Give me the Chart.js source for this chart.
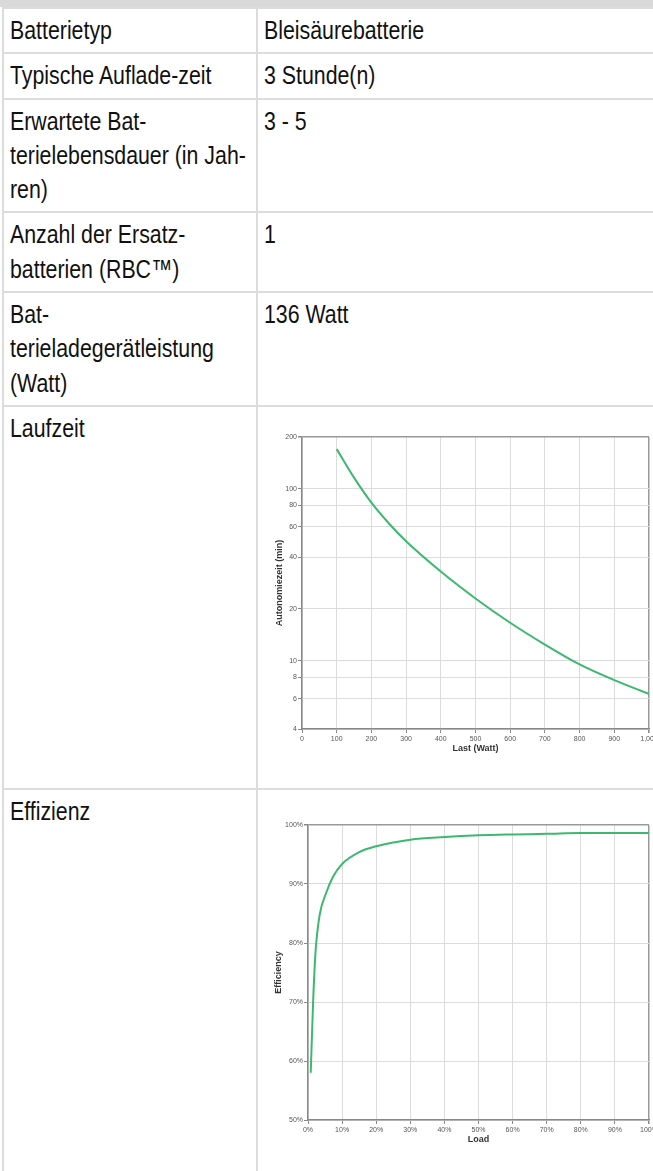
<!DOCTYPE html>
<html>
<head>
<meta charset="utf-8">
<script src="https://cdn.jsdelivr.net/npm/chart.js@4"></script>
<style>
    html, body { margin: 0; padding: 0; overflow: hidden; background: #fff; }
    .band { height: 7px; background: #d9d9d9; }
    table {
        border-collapse: collapse;
        table-layout: fixed;
        width: 720px;
        margin-left: 2px;
        font-family: 'Liberation Sans', Arial, sans-serif;
        font-size: 26px;
        line-height: 34.3px;
        color: #111;
    }
    td {
        border: 2px solid #dcdcdc;
        padding: 4px 6px 5px 6px;
        vertical-align: top;
        white-space: nowrap;
    }
    td.k { width: 240px; }
    /* narrow face is not installed, so squeeze the regular one */
    .n { display: inline-block; transform: scaleX(0.82); transform-origin: 0 0; }
    .cell { position: relative; height: 372px; }
    .cell.last { height: 420px; }
    .chart { position: absolute; left: -2px; width: 400px; }
</style>
</head>
<body>
<div class="band"></div>
<table>
    <tr><td class="k"><span class="n">Batterietyp</span></td><td><span class="n">Bleisäurebatterie</span></td></tr>
    <tr><td class="k"><span class="n">Typische Auflade-zeit</span></td><td><span class="n">3 Stunde(n)</span></td></tr>
    <tr><td class="k"><span class="n">Erwartete Bat-<br>terielebensdauer (in Jah-<br>ren)</span></td><td><span class="n">3 - 5</span></td></tr>
    <tr><td class="k"><span class="n">Anzahl der Ersatz-<br>batterien (RBC™)</span></td><td><span class="n">1</span></td></tr>
    <tr><td class="k"><span class="n">Bat-<br>terieladegerätleistung<br>(Watt)</span></td><td><span class="n">136 Watt</span></td></tr>
    <tr><td class="k"><span class="n">Laufzeit</span></td><td><div class="cell"><div class="chart" style="top:15px;height:335px;"><canvas id="runtimeChart"></canvas></div></div></td></tr>
    <tr><td class="k"><span class="n">Effizienz</span></td><td><div class="cell last"><div class="chart" style="top:12px;height:350px;"><canvas id="effChart"></canvas></div></div></td></tr>
</table>

<script>
// Laufzeit: load in watts vs. runtime in minutes
const loadWatts = [100, 150, 200, 250, 300, 400, 500, 600, 700, 800, 900, 1000];
const runtimeMin = [170, 116, 83, 63, 49.5, 33, 23, 16.6, 12.4, 9.5, 7.7, 6.4];
const runtimeTicks = [4, 6, 8, 10, 20, 40, 60, 80, 100, 200];

// Effizienz: load in percent vs. efficiency in percent
const loadPct = [0.8, 1.5, 2.2, 3.4, 5.4, 7.3, 10, 15, 20, 30, 40, 50, 60, 70, 80, 90, 100];
const effPct = [58, 70, 78.4, 84.7, 88.6, 91.2, 93.4, 95.4, 96.4, 97.5, 97.95, 98.25, 98.4, 98.5, 98.65, 98.65, 98.65];

const green = '#3cb870';
const tickFont = { family: 'Liberation Sans', size: 7 };
const titleFont = { family: 'Liberation Sans', size: 9, weight: 'bold' };

function gridColor(max) {
    return ctx => (ctx.tick && ctx.tick.value === max ? '#999' : '#dcdcdc');
}
function gridWidth(max) {
    return ctx => (ctx.tick && ctx.tick.value === max ? 1.5 : 1);
}

Chart.defaults.animation = false;

new Chart(document.getElementById('runtimeChart'), {
    type: 'line',
    data: {
        datasets: [{
            data: loadWatts.map((w, i) => ({ x: w, y: runtimeMin[i] })),
            borderColor: green,
            borderWidth: 2,
            pointRadius: 0,
            cubicInterpolationMode: 'monotone'
        }]
    },
    options: {
        responsive: true,
        maintainAspectRatio: false,
        layout: { padding: { top: 11, right: 13, bottom: 0, left: 0 } },
        plugins: { legend: { display: false }, tooltip: { enabled: false } },
        scales: {
            x: {
                type: 'linear',
                min: 0,
                max: 1000,
                afterFit: s => { s.height = 32; },
                ticks: {
                    stepSize: 100,
                    autoSkip: false,
                    maxRotation: 0,
                    padding: 2,
                    font: tickFont,
                    color: '#555',
                    callback: v => v.toLocaleString('en-US')
                },
                grid: { color: gridColor(1000), lineWidth: gridWidth(1000), tickColor: '#888', tickLength: 4 },
                border: { color: '#888', width: 1.5 },
                title: { display: true, text: 'Last (Watt)', font: titleFont, color: '#333', padding: { top: 0, bottom: 7 } }
            },
            y: {
                type: 'logarithmic',
                min: 4,
                max: 200,
                afterFit: s => { s.width = 40; },
                afterBuildTicks: s => { s.ticks = runtimeTicks.map(v => ({ value: v })); },
                ticks: {
                    autoSkip: false,
                    padding: 1,
                    font: tickFont,
                    color: '#555',
                    callback: v => String(v)
                },
                grid: { color: gridColor(200), lineWidth: gridWidth(200), tickColor: '#888', tickLength: 4 },
                border: { color: '#888', width: 1.5 },
                title: { display: true, text: 'Autonomiezeit (min)', font: titleFont, color: '#333', padding: { top: 12, bottom: 0 } }
            }
        }
    }
});

new Chart(document.getElementById('effChart'), {
    type: 'line',
    data: {
        datasets: [{
            data: loadPct.map((l, i) => ({ x: l, y: effPct[i] })),
            borderColor: green,
            borderWidth: 2,
            pointRadius: 0,
            cubicInterpolationMode: 'monotone'
        }]
    },
    options: {
        responsive: true,
        maintainAspectRatio: false,
        layout: { padding: { top: 19, right: 13, bottom: 0, left: 0 } },
        plugins: { legend: { display: false }, tooltip: { enabled: false } },
        scales: {
            x: {
                type: 'linear',
                min: 0,
                max: 100,
                afterFit: s => { s.height = 36; },
                ticks: {
                    stepSize: 10,
                    autoSkip: false,
                    maxRotation: 0,
                    padding: 2,
                    font: tickFont,
                    color: '#555',
                    callback: v => v + '%'
                },
                grid: { color: gridColor(100), lineWidth: gridWidth(100), tickColor: '#888', tickLength: 4 },
                border: { color: '#888', width: 1.5 },
                title: { display: true, text: 'Load', font: titleFont, color: '#333', padding: { top: 0, bottom: 11 } }
            },
            y: {
                type: 'linear',
                min: 50,
                max: 100,
                afterFit: s => { s.width = 46; },
                ticks: {
                    stepSize: 10,
                    padding: 1,
                    font: tickFont,
                    color: '#555',
                    callback: v => v + '%'
                },
                grid: { color: gridColor(100), lineWidth: gridWidth(100), tickColor: '#888', tickLength: 4 },
                border: { color: '#888', width: 1.5 },
                title: { display: true, text: 'Efficiency', font: titleFont, color: '#333', padding: { top: 11, bottom: 0 } }
            }
        }
    }
});
</script>
</body>
</html>
